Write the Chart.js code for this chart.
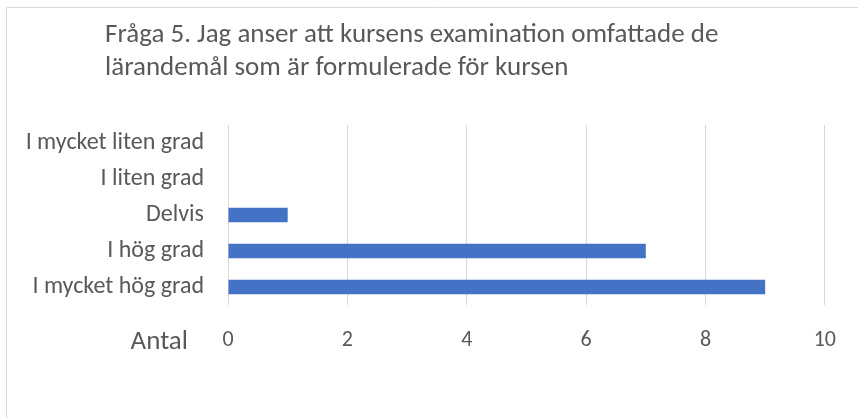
<!DOCTYPE html>
<html>
<head>
<meta charset="utf-8">
<script src="https://cdn.jsdelivr.net/npm/chart.js@4"></script>
<style>
html,body{margin:0;padding:0;background:#fff;}
#wrap{position:relative;width:858px;height:418px;}
</style>
</head>
<body>
<div id="wrap"><canvas id="c" width="858" height="418"></canvas></div>
<script>
const titleLines = ["Fråga 5. Jag anser att kursens examination omfattade de", "lärandemål som är formulerade för kursen"];
const categories = ["I mycket liten grad", "I liten grad", "Delvis", "I hög grad", "I mycket hög grad"];
const counts = [0, 0, 1, 7, 9];
const xTicks = [0, 2, 4, 6, 8, 10];
const axisLabel = "Antal";

const FONT = "Carlito, Lato, 'Liberation Sans', sans-serif";
const TXT = "#595959";

const decor = {
  id: 'decor',
  beforeDraw(chart) {
    const ctx = chart.ctx;
    ctx.save();
    ctx.fillStyle = '#fff';
    ctx.fillRect(0, 0, chart.width, chart.height);
    ctx.strokeStyle = '#d9d9d9';
    ctx.lineWidth = 1;
    ctx.beginPath();
    ctx.moveTo(6.5, chart.height + 2);
    ctx.lineTo(6.5, 7.5);
    ctx.lineTo(chart.width + 2, 7.5);
    ctx.stroke();
    ctx.restore();
  },
  afterDraw(chart) {
    const ctx = chart.ctx;
    ctx.save();
    ctx.fillStyle = TXT;
    ctx.font = "27px " + FONT;
    ctx.textBaseline = 'middle';
    ctx.textAlign = 'left';
    titleLines.forEach((t, i) => ctx.fillText(t, 105, 35 + i * 33));
    ctx.textAlign = 'right';
    ctx.fillText(axisLabel, chart.chartArea.left - 40, 342);
    ctx.restore();
  }
};

new Chart(document.getElementById('c'), {
  type: 'bar',
  data: {
    labels: categories,
    datasets: [{
      data: counts,
      backgroundColor: '#4472C4',
      borderWidth: 0,
      barPercentage: 0.4,
      categoryPercentage: 1
    }]
  },
  options: {
    indexAxis: 'y',
    responsive: false,
    animation: false,
    devicePixelRatio: 1,
    layout: { padding: { top: 125, right: 30, bottom: 53, left: 0 } },
    plugins: { legend: { display: false }, title: { display: false }, tooltip: { enabled: false } },
    scales: {
      x: {
        min: 0, max: 10,
        afterFit(s) { s.height = 60; },
        afterBuildTicks(s) { s.ticks = xTicks.map(v => ({ value: v })); },
        grid: { color: '#d9d9d9', drawTicks: false, lineWidth: 1 },
        border: { display: false },
        ticks: { color: TXT, font: { family: FONT, size: 22 }, padding: 22 }
      },
      y: {
        afterFit(s) { s.width = 228; },
        grid: { display: false, drawTicks: false },
        border: { display: false },
        ticks: { color: TXT, font: { family: FONT, size: 24 }, padding: 24 }
      }
    }
  },
  plugins: [decor]
});
</script>
</body>
</html>
